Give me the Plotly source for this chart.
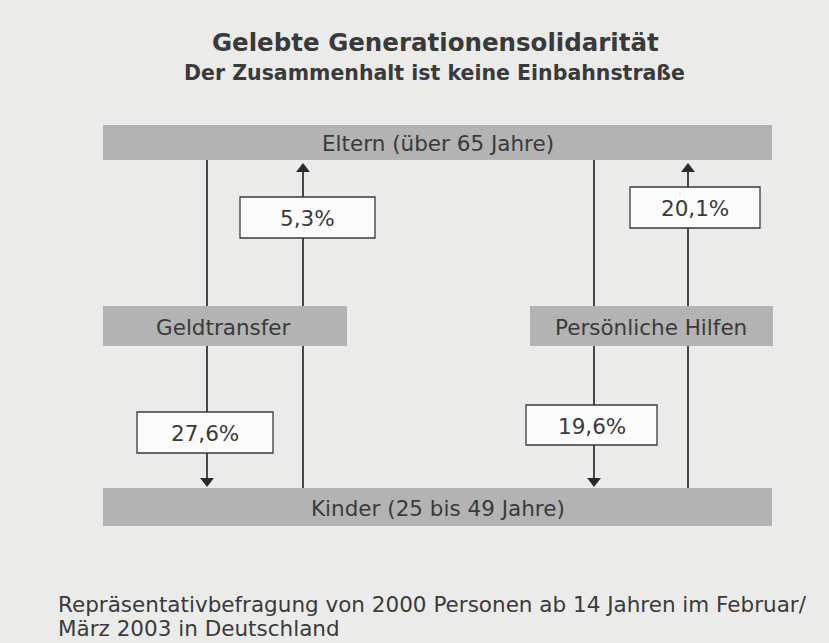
import plotly.graph_objects as go

title = "Gelebte Generationensolidarität"
subtitle = "Der Zusammenhalt ist keine Einbahnstraße"
groups = ["Eltern (über 65 Jahre)", "Kinder (25 bis 49 Jahre)"]
categories = ["Geldtransfer", "Persönliche Hilfen"]
flow_labels = ["Eltern → Kinder (Geld)", "Kinder → Eltern (Geld)", "Eltern → Kinder (Hilfen)", "Kinder → Eltern (Hilfen)"]
flow_values = [27.6, 5.3, 19.6, 20.1]
flow_dirs = ["down", "up", "down", "up"]
footnote_lines = ["Repräsentativbefragung von 2000 Personen ab 14 Jahren im Februar/",
                  "März 2003 in Deutschland"]

W, H = 829, 643
BG = "#ebebea"
BAR = "#b3b3b3"
FONT = "DejaVu Sans"
TXT = "#3a3a3a"

# layout geometry (pixels)
line_x = [207, 303, 594, 688]
box_x = [(137, 273), (240, 375), (526, 657), (630, 760)]
box_y = [(412, 453), (197, 238), (405, 445), (187, 228)]
top_bar = (103, 772, 125, 160)
bot_bar = (103, 772, 488, 526)
mid_bars = [(103, 347, 306, 346), (530, 773, 306, 346)]
mid_label_x = [223, 651]

fig = go.Figure()
shapes = []
annotations = []

def rect(x0, x1, y0, y1, fill, line=None):
    shapes.append(dict(type="rect", xref="x", yref="y", x0=x0, x1=x1, y0=y0, y1=y1,
                       fillcolor=fill, line=dict(width=1.3 if line else 0, color=line or fill),
                       layer="above"))

for lx, d in zip(line_x, flow_dirs):
    y_start, y_end = (160, 481) if d == "down" else (488, 169)
    fig.add_trace(go.Scatter(x=[lx, lx], y=[y_start, y_end], mode="lines",
                             line=dict(color="#2a2a2a", width=1.7), hoverinfo="skip", showlegend=False))
    fig.add_trace(go.Scatter(x=[lx], y=[y_end], mode="markers",
                             marker=dict(symbol="triangle-down" if d == "down" else "triangle-up",
                                         size=12, color="#2a2a2a"),
                             hoverinfo="skip", showlegend=False))

LBL = 21.5
x0, x1, y0, y1 = top_bar
rect(x0, x1, y0, y1, BAR)
annotations.append(dict(x=438, y=(y0 + y1) / 2 + 1, text=groups[0], showarrow=False,
                        font=dict(size=LBL, color=TXT, family=FONT)))
x0, x1, y0, y1 = bot_bar
rect(x0, x1, y0, y1, BAR)
annotations.append(dict(x=438, y=(y0 + y1) / 2 + 1, text=groups[1], showarrow=False,
                        font=dict(size=LBL, color=TXT, family=FONT)))
for (x0, x1, y0, y1), c, lx in zip(mid_bars, categories, mid_label_x):
    rect(x0, x1, y0, y1, BAR)
    annotations.append(dict(x=lx, y=(y0 + y1) / 2 + 1, text=c, showarrow=False,
                            font=dict(size=LBL, color=TXT, family=FONT)))

for (bx0, bx1), (by0, by1), v in zip(box_x, box_y, flow_values):
    rect(bx0, bx1, by0, by1, "#fbfbfb", "#3a3a3a")
    annotations.append(dict(x=(bx0 + bx1) / 2, y=(by0 + by1) / 2 + 1,
                            text=f"{v:.1f}%".replace(".", ","), showarrow=False,
                            font=dict(size=LBL, color=TXT, family=FONT)))

annotations.append(dict(x=435, y=42, text=f"<b>{title}</b>", showarrow=False,
                        font=dict(size=24.5, color=TXT, family=FONT)))
annotations.append(dict(x=434, y=73, text=f"<b>{subtitle}</b>", showarrow=False,
                        font=dict(size=20.5, color=TXT, family=FONT)))
for i, ln in enumerate(footnote_lines):
    annotations.append(dict(x=56, y=604 + 24 * i, text=ln, showarrow=False, xanchor="left",
                            font=dict(size=21.5, color=TXT, family=FONT)))

fig.update_layout(
    width=W, height=H, margin=dict(l=0, r=0, t=0, b=0),
    paper_bgcolor=BG, plot_bgcolor=BG,
    xaxis=dict(range=[0, W], visible=False, fixedrange=True),
    yaxis=dict(range=[H, 0], visible=False, fixedrange=True),
    shapes=shapes, annotations=annotations, showlegend=False,
)
fig.write_html("out.html", config={"displayModeBar": False})

with open("out.html", encoding="utf-8") as f:
    html = f.read()
html = html.replace("<head>", "<head><style>html,body{margin:0;padding:0;overflow:hidden;background:#ebebea;}</style>", 1)
with open("out.html", "w", encoding="utf-8") as f:
    f.write(html)
